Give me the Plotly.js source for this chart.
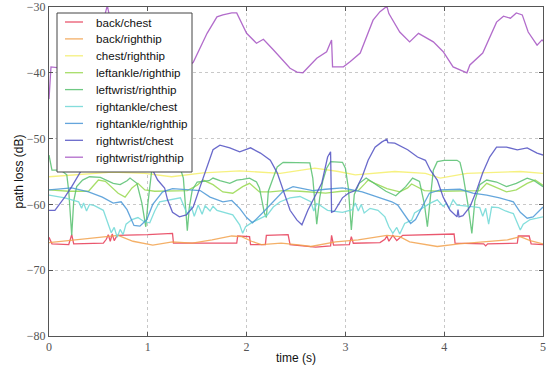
<!DOCTYPE html>
<html><head><meta charset="utf-8">
<script src="https://cdn.plot.ly/plotly-3.0.1.min.js"></script>
<style>html,body{margin:0;padding:0;background:#fff}#plot{width:558px;height:369px}</style>
</head><body><div id="plot"></div>
<script>
const seriesNames = ["back/chest","back/righthip","chest/righthip","leftankle/righthip","leftwrist/righthip","rightankle/chest","rightankle/righthip","rightwrist/chest","rightwrist/righthip"];
const seriesColors = ["#e63a55","#f2a24e","#f4ee6a","#98d84e","#56c06e","#6fd8d6","#4a96d6","#5050c2","#a452c2"];

// back/chest (red)
const tBackChest = [0,0.03,0.2,0.23,0.25,0.55,0.58,0.6,0.62,0.64,0.66,0.69,1.0,1.25,1.26,1.9,1.91,2.03,2.04,2.19,2.2,2.42,2.44,2.65,2.7,2.85,2.86,2.88,3.04,3.06,3.08,3.35,3.4,3.42,3.44,3.48,3.52,3.58,3.78,4.1,4.11,4.4,4.42,4.44,4.74,4.75,4.86,4.88,5.0];
const vBackChest = [-65.0,-66.0,-66.1,-64.6,-66.0,-65.9,-65.3,-64.6,-65.6,-64.5,-65.5,-64.7,-64.6,-64.4,-65.9,-65.9,-64.8,-64.9,-66.1,-66.1,-64.7,-64.6,-66.1,-66.4,-66.5,-66.3,-64.7,-66.2,-66.1,-64.9,-65.9,-65.8,-65.3,-64.8,-65.6,-64.7,-65.5,-64.7,-64.6,-64.5,-65.9,-66.0,-66.3,-66.0,-65.9,-64.8,-64.8,-66.0,-66.1];

// back/righthip (orange)
const tBackRighthip = [0,0.25,0.6,0.7,0.85,1.05,1.25,1.45,1.65,1.85,1.95,2.05,2.15,2.35,2.55,2.65,2.9,3.13,3.42,3.55,3.65,3.85,3.93,4.15,4.39,4.64,4.77,4.87,5.0];
const vBackRighthip = [-65.8,-65.4,-64.9,-64.7,-65.6,-66.2,-65.7,-65.9,-65.4,-64.8,-64.9,-65.6,-66.1,-65.9,-66.2,-66.4,-65.7,-65.4,-64.7,-64.9,-65.7,-66.2,-66.4,-66.0,-65.7,-65.4,-64.9,-65.5,-66.0];

// chest/righthip (yellow)
const tChestRighthip = [0,0.31,0.64,0.97,1.24,1.56,1.93,2.34,2.54,2.69,2.93,3.1,3.5,3.81,3.96,4.23,4.77,5.0];
const vChestRighthip = [-55.8,-55.5,-55.1,-55.3,-55.8,-55.2,-54.9,-55.3,-54.8,-54.5,-55.0,-55.5,-55.0,-55.3,-56.0,-55.3,-55.0,-55.3];

// leftankle/righthip (light green)
const tLeftankle = [0,0.2,0.4,0.44,0.5,0.57,0.64,0.7,0.77,0.84,0.9,0.97,1.07,1.25,1.4,1.5,1.56,1.66,1.76,1.86,1.96,2.03,2.08,2.13,2.24,2.37,2.54,2.67,2.8,2.96,3.13,3.2,3.23,3.3,3.42,3.55,3.63,3.67,3.72,3.8,3.96,4.16,4.36,4.43,4.53,4.63,4.73,4.84,4.92,5.0];
const vLeftankle = [-57.8,-58.0,-58.0,-57.3,-56.3,-56.5,-57.5,-58.3,-58.9,-57.5,-56.8,-57.8,-58.0,-57.9,-57.9,-57.1,-56.3,-57.0,-58.1,-58.3,-57.3,-56.8,-57.4,-58.1,-58.1,-57.9,-58.0,-58.2,-58.3,-58.0,-57.9,-56.8,-56.3,-56.8,-57.6,-58.1,-57.5,-56.9,-57.3,-57.9,-58.0,-57.9,-57.9,-56.8,-57.5,-58.1,-57.8,-56.8,-56.3,-57.1];

// leftwrist/righthip (green)
const tLeftwrist = [0,0.03,0.12,0.18,0.2,0.23,0.25,0.28,0.34,0.41,0.52,0.58,0.65,0.72,0.79,0.82,0.89,0.94,0.98,1.0,1.04,1.08,1.3,1.33,1.36,1.38,1.4,1.42,1.45,1.5,1.62,1.66,1.73,1.83,1.9,1.96,2.03,2.1,2.13,2.18,2.2,2.22,2.26,2.31,2.37,2.5,2.64,2.67,2.71,2.74,2.77,2.81,2.85,2.97,3.0,3.03,3.06,3.09,3.14,3.21,3.31,3.41,3.51,3.61,3.68,3.75,3.8,3.83,3.86,3.89,3.93,4.0,4.13,4.16,4.19,4.24,4.28,4.31,4.36,4.43,4.53,4.63,4.73,4.84,4.9,4.97,5.0];
const vLeftwrist = [-52.5,-54.8,-54.8,-55.5,-58.0,-64.7,-59.5,-57.3,-56.3,-55.8,-55.9,-56.3,-56.8,-57.0,-56.4,-56.0,-56.8,-59.8,-63.4,-60.0,-54.8,-54.3,-54.3,-54.6,-56.0,-60.0,-64.0,-60.5,-57.8,-56.6,-56.4,-56.0,-56.4,-56.8,-56.3,-56.2,-56.0,-56.6,-57.5,-61.3,-62.0,-58.0,-56.3,-54.3,-53.6,-53.6,-53.7,-56.0,-63.0,-59.0,-56.5,-54.5,-53.5,-53.6,-54.5,-57.5,-63.9,-58.5,-56.8,-56.0,-57.0,-58.0,-58.7,-57.3,-56.0,-56.5,-60.0,-63.4,-59.0,-54.8,-53.5,-53.3,-53.3,-53.6,-55.5,-60.0,-64.4,-59.5,-57.0,-56.3,-56.6,-57.3,-56.8,-56.0,-56.3,-57.0,-57.3];

// rightankle/chest (cyan)
const tRightankleChest = [0,0.16,0.3,0.33,0.35,0.38,0.41,0.46,0.55,0.6,0.63,0.66,0.69,0.72,0.75,0.78,0.84,0.9,0.96,1.02,1.07,1.12,1.25,1.33,1.4,1.44,1.47,1.51,1.55,1.58,1.63,1.66,1.7,1.78,1.86,1.93,1.96,1.99,2.06,2.13,2.21,2.27,2.34,2.44,2.54,2.65,2.68,2.71,2.75,2.82,2.97,3.07,3.1,3.13,3.16,3.19,3.25,3.33,3.4,3.44,3.48,3.52,3.55,3.6,3.67,3.7,3.77,3.86,3.93,3.99,4.02,4.05,4.09,4.13,4.26,4.36,4.39,4.42,4.45,4.48,4.55,4.62,4.7,4.74,4.77,4.8,4.87,4.94,5.0];
const vRightankleChest = [-58.6,-59.0,-59.6,-60.6,-59.8,-61.0,-60.0,-60.2,-60.9,-62.9,-64.3,-63.5,-65.0,-63.8,-64.6,-63.0,-62.3,-62.0,-62.6,-62.8,-61.0,-59.6,-59.3,-59.0,-61.5,-60.3,-61.8,-60.1,-61.5,-60.2,-61.0,-60.3,-60.9,-61.2,-61.6,-63.1,-64.4,-63.4,-62.7,-62.2,-61.6,-60.4,-59.6,-59.0,-58.8,-59.6,-61.0,-59.9,-60.2,-60.9,-61.2,-60.8,-59.8,-61.0,-60.0,-61.3,-60.6,-60.9,-61.9,-63.4,-64.4,-63.5,-64.5,-62.9,-62.4,-61.3,-60.6,-59.8,-59.3,-60.3,-59.8,-60.6,-59.3,-60.1,-60.3,-60.5,-61.8,-60.6,-63.0,-60.4,-60.5,-61.0,-61.4,-62.8,-63.9,-63.0,-62.3,-62.1,-61.9];

// rightankle/righthip (blue)
const tRightankleRighthip = [0,0.23,0.4,0.54,0.65,0.73,0.79,0.86,0.92,0.99,1.05,1.15,1.25,1.4,1.53,1.63,1.76,1.85,1.93,2.0,2.06,2.16,2.27,2.37,2.47,2.67,2.8,2.97,3.17,3.27,3.37,3.47,3.53,3.6,3.66,3.71,3.78,3.85,3.96,4.16,4.29,4.43,4.56,4.7,4.77,4.84,4.9,4.97,5.0];
const vRightankleRighthip = [-57.8,-57.5,-58.1,-58.9,-59.8,-59.6,-60.8,-63.2,-63.3,-62.3,-60.0,-58.1,-57.6,-57.7,-57.9,-58.9,-59.6,-59.4,-60.6,-62.0,-62.8,-61.3,-59.6,-58.0,-57.3,-57.9,-57.7,-57.5,-58.1,-58.6,-59.0,-59.6,-60.1,-61.6,-62.9,-62.3,-60.4,-58.3,-57.8,-57.7,-58.3,-58.6,-59.0,-59.6,-61.2,-62.1,-61.9,-60.9,-60.4];

// rightwrist/chest (indigo)
const tRightwristChest = [0,0.06,0.09,0.16,0.23,0.29,0.36,0.45,0.6,0.8,0.95,1.04,1.1,1.17,1.2,1.25,1.32,1.39,1.46,1.53,1.6,1.66,1.73,1.83,1.93,2.04,2.14,2.24,2.31,2.37,2.44,2.51,2.56,2.62,2.69,2.76,2.82,2.85,2.86,2.89,2.97,3.03,3.1,3.17,3.23,3.3,3.37,3.42,3.43,3.5,3.63,3.73,3.81,3.86,3.93,3.99,4.06,4.13,4.14,4.15,4.19,4.26,4.33,4.39,4.46,4.53,4.63,4.74,4.84,4.94,5.0];
const vRightwristChest = [-60.9,-60.9,-60.3,-58.9,-57.3,-55.8,-54.0,-52.5,-51.2,-51.0,-52.5,-54.5,-56.3,-57.5,-59.3,-61.2,-61.9,-61.6,-60.4,-57.3,-54.3,-51.7,-51.0,-51.4,-52.0,-51.4,-52.2,-53.3,-55.2,-57.8,-60.9,-62.4,-63.1,-60.9,-58.9,-56.8,-52.8,-52.0,-61.2,-61.0,-59.0,-58.3,-57.9,-55.8,-53.3,-51.3,-50.5,-50.1,-50.6,-50.7,-51.7,-52.8,-53.3,-54.8,-56.3,-58.9,-60.9,-61.9,-60.8,-61.9,-61.7,-60.4,-57.8,-55.2,-52.8,-51.3,-51.3,-51.7,-51.4,-52.2,-52.5];

// rightwrist/righthip (purple)
const tRightwristRighthip = [0,0.02,0.08,0.3,0.5,0.56,0.59,0.61,0.64,0.8,1.0,1.2,1.35,1.46,1.6,1.7,1.76,1.85,1.9,2.0,2.1,2.17,2.27,2.44,2.51,2.57,2.71,2.81,2.86,2.87,2.98,3.05,3.15,3.28,3.35,3.42,3.44,3.55,3.65,3.74,3.89,3.99,4.09,4.23,4.26,4.39,4.53,4.6,4.67,4.73,4.79,4.85,4.94,4.99,5.0];
const vRightwristRighthip = [-44.0,-39.1,-39.2,-37.0,-34.0,-31.5,-29.8,-31.2,-32.5,-35.0,-37.5,-39.5,-39.8,-38.4,-34.0,-31.5,-31.2,-30.9,-30.9,-34.0,-35.5,-34.9,-36.5,-39.3,-39.9,-40.0,-37.8,-36.8,-35.0,-39.1,-39.1,-38.3,-37.0,-32.0,-30.7,-29.9,-31.0,-33.8,-35.3,-34.0,-35.3,-36.8,-39.1,-40.0,-38.8,-37.0,-32.3,-31.4,-31.7,-30.9,-31.2,-33.8,-35.8,-35.0,-35.2];

const timeArrays = [tBackChest,tBackRighthip,tChestRighthip,tLeftankle,tLeftwrist,tRightankleChest,tRightankleRighthip,tRightwristChest,tRightwristRighthip];
const valueArrays = [vBackChest,vBackRighthip,vChestRighthip,vLeftankle,vLeftwrist,vRightankleChest,vRightankleRighthip,vRightwristChest,vRightwristRighthip];

const xTicks = [0,1,2,3,4,5];
const yTicks = [-80,-70,-60,-50,-40,-30];

const traces = seriesNames.map((n,i)=>({
  type:'scatter', mode:'lines', name:n,
  x: timeArrays[i], y: valueArrays[i],
  line:{color:seriesColors[i], width:1.3},
  opacity:0.85, showlegend:false
}));

// custom legend box (pixel layout converted to paper coords)
const W = 558, H = 369, mL = 49, mR = 15, mT = 7, mB = 33;
const pw = W - mL - mR, ph = H - mT - mB;
const px = x => (x - mL) / pw;
const py = y => (H - mB - y) / ph;
const shapes = [{type:'rect', xref:'paper', yref:'paper', x0:px(57), x1:px(192), y0:py(172), y1:py(13),
  fillcolor:'#fff', line:{color:'#444', width:1}, layer:'above'}];
const annotations = [];
seriesNames.forEach((n,i)=>{
  const yy = 22 + i*16.9;
  shapes.push({type:'line', xref:'paper', yref:'paper', x0:px(65), x1:px(83), y0:py(yy), y1:py(yy),
    line:{color:seriesColors[i], width:1.3}, opacity:0.85, layer:'above'});
  annotations.push({xref:'paper', yref:'paper', x:px(94), y:py(yy), xanchor:'left', yanchor:'middle', showarrow:false,
    text:n, font:{family:'"Liberation Sans", Arial, sans-serif', size:11.6, color:'#111'}});
});

const sans = '"Liberation Sans", Arial, sans-serif';
const tickFont = {family:'"Liberation Serif", "DejaVu Serif", serif', size:12, color:'#555'};
const layout = {
  width:W, height:H,
  margin:{l:mL, r:mR, t:mT, b:mB},
  paper_bgcolor:'#fff', plot_bgcolor:'#fff',
  showlegend:false, shapes, annotations,
  xaxis:{range:[0,5], tickvals:xTicks, ticktext:xTicks.map(String), showgrid:true, gridcolor:'#c8c8c8', griddash:'dot', gridwidth:1,
    zeroline:false, showline:true, linecolor:'#555', linewidth:1, mirror:'allticks', ticks:'inside', ticklen:4, tickcolor:'#555',
    tickfont:tickFont, title:{text:'time (s)', font:{family:sans, size:12, color:'#111'}, standoff:0}},
  yaxis:{range:[-80,-30], tickvals:yTicks, ticktext:yTicks.map(v=>'\u2212'+Math.abs(v)), showgrid:true, gridcolor:'#c8c8c8', griddash:'dot', gridwidth:1,
    zeroline:false, showline:true, linecolor:'#555', linewidth:1, mirror:'allticks', ticks:'inside', ticklen:4, tickcolor:'#555',
    tickfont:tickFont, title:{text:'path loss (dB)', font:{family:sans, size:12, color:'#111'}, standoff:0}}
};
Plotly.newPlot('plot', traces, layout, {staticPlot:true, displayModeBar:false});
</script></body></html>
